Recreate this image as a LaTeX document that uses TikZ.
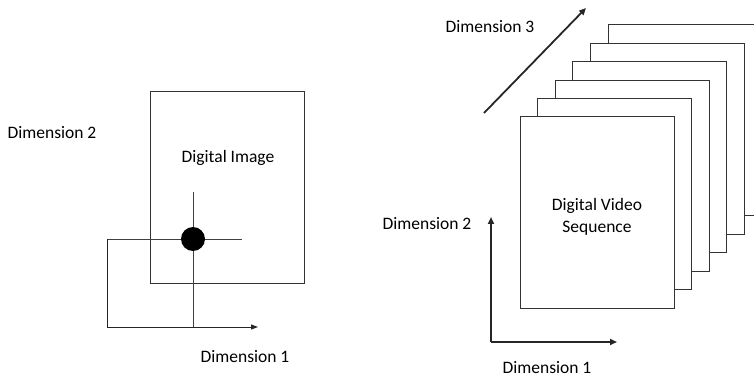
\documentclass[tikz,border=0pt]{standalone}
\usepackage{fontspec}
\setmainfont{Carlito}
\usetikzlibrary{arrows.meta}

\begin{document}
\begin{tikzpicture}[x=1pt,y=-1pt,
	lbl/.style={font=\fontsize{17.5}{22.5}\selectfont,inner sep=0pt,align=center},
	frame/.style={draw=black!80,line width=1pt,fill=white,inner sep=0pt,
		minimum width=154pt,minimum height=191pt},
	hair/.style={black!75,line width=1pt},
	axis/.style={black!85,line width=2pt,-{Triangle[length=7pt,width=6pt]}},
	thinaxis/.style={black!85,line width=1pt,-{Triangle[length=7pt,width=5pt]}}]
	\useasboundingbox (0,0) rectangle (754,379);
	\clip (0,0) rectangle (754,379);

	% still image with one pixel picked out
	\node[frame,minimum width=154pt] (img) at (227,187.5) {};
	\node[lbl] (imgtxt) at (228,158) {Digital Image};
	\coordinate (vtop) at (193,192);
	\coordinate (hright) at (242,239);
	\coordinate (corner) at (107,327);
	\coordinate (hleft) at (107,239);
	\coordinate (xend) at (258,327);
	\coordinate (vbot) at (193,327);
	\draw[hair] (vtop) -- (vbot);
	\draw[hair] (hleft) -- (hright);
	\draw[thinaxis] (hleft) -- (corner) -- (xend);
	\node[circle,fill=black,minimum size=24pt,inner sep=0pt] (pix) at (193,239) {};
	\node[lbl] (ldimA) at (245,357) {Dimension 1};
	\node[lbl] (ldimB) at (52,133) {Dimension 2};

	% stack of frames, back to front
	\foreach \k in {5,4,...,0}
		\node[frame] (f\k) at ({597+17.6*\k},{212.5-18.4*\k}) {};
	\node[lbl] (vidtxt) at (597,217) {Digital Video\\Sequence};

	\coordinate (origin) at (491,342);
	\coordinate (up) at (491,217);
	\coordinate (right) at (617,342);
	\coordinate (dA) at (484,113);
	\coordinate (dB) at (586,8);
	\draw[axis] (origin) -- (up);
	\draw[axis] (origin) -- (right);
	\draw[axis,line width=1.8pt] (dA) -- (dB);
	\node[lbl] (rdimA) at (547,368) {Dimension 1};
	\node[lbl] (rdimB) at (427,224) {Dimension 2};
	\node[lbl] (rdimC) at (490,27) {Dimension 3};
\end{tikzpicture}
\end{document}
